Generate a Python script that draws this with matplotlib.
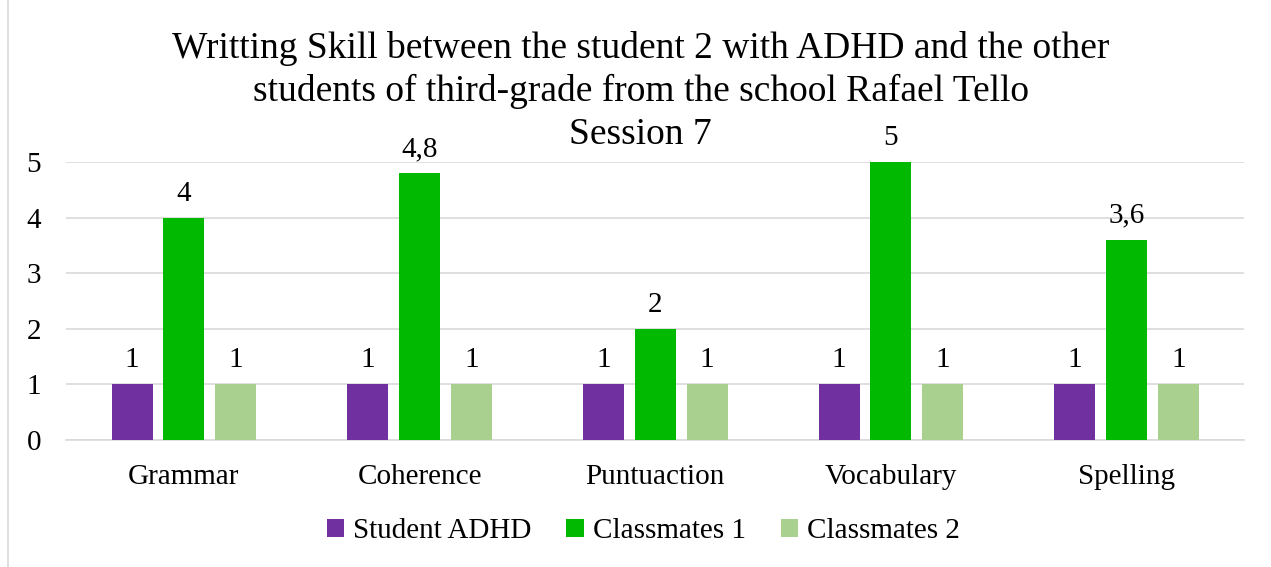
import matplotlib.pyplot as plt
import numpy as np
from matplotlib.patches import Rectangle

categories = ["Grammar", "Coherence", "Puntuaction", "Vocabulary", "Spelling"]
student_adhd = [1, 1, 1, 1, 1]
classmates_1 = [4, 4.8, 2, 5, 3.6]
classmates_2 = [1, 1, 1, 1, 1]
series_names = ["Student ADHD", "Classmates 1", "Classmates 2"]
colors = ["#7030A0", "#00B900", "#A9D08E"]
title_lines = [
    "Writting Skill between the student 2 with ADHD and the other",
    "students of third-grade from the school Rafael Tello",
    "Session 7",
]

plt.rcParams["font.family"] = ["Liberation Serif", "DejaVu Serif"]

fig = plt.figure(figsize=(12.71, 5.67), dpi=100)
ax = fig.add_axes([0.052, 0.224, 0.927, 0.49])
fig.patches.append(Rectangle((0.006, -0.01), 1.2, 1.2, transform=fig.transFigure,
                             fill=False, edgecolor="#d9d9d9", linewidth=1.2))

x = np.arange(len(categories))
width = 0.174
offset = 0.22
for i, (vals, name) in enumerate(zip([student_adhd, classmates_1, classmates_2], series_names)):
    bars = ax.bar(x + (i - 1) * offset, vals, width, color=colors[i], label=name, zorder=3)
    ax.bar_label(bars, labels=[f"{v:g}".replace(".", ",") for v in vals], padding=8, fontsize=21)

ax.set_xlim(-0.5, 4.5)
ax.set_ylim(0, 5)
ax.set_yticks(range(6))
ax.set_xticks(x)
ax.set_xticklabels(categories)
ax.tick_params(axis="both", length=0, labelsize=21)
ax.tick_params(axis="x", pad=17)
ax.tick_params(axis="y", pad=18)
ax.grid(axis="y", color="#d9d9d9", linewidth=1.2, zorder=0)
for side in ["top", "right", "left"]:
    ax.spines[side].set_visible(False)
ax.spines["bottom"].set_color("#d9d9d9")
ax.spines["bottom"].set_linewidth(1.2)

for k, line in enumerate(title_lines):
    fig.text(0.504, 1 - (48 + 43.5 * k) / 567, line, ha="center", va="center", fontsize=27)

fig.legend(loc="center", bbox_to_anchor=(0.506, 0.063), ncol=3, frameon=False,
           fontsize=21, handlelength=0.6, handleheight=0.6, handletextpad=0.3,
           columnspacing=1.2)

fig.savefig("out.png", dpi=100)
